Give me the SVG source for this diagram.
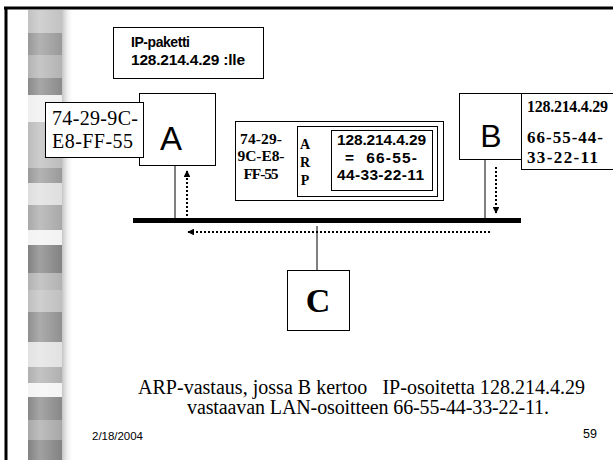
<svg xmlns="http://www.w3.org/2000/svg" width="613" height="460" viewBox="0 0 613 460">
  <style>
    .box { fill: #fff; stroke: #000; stroke-width: 1; }
    .thin { fill: none; stroke: #000; stroke-width: 1; }
    .dot { fill: none; stroke: #000; stroke-width: 2; stroke-dasharray: 2 2; }
    .sans { font-family: "Liberation Sans", Arial, sans-serif; }
    .serif { font-family: "Liberation Serif", "Times New Roman", serif; }
    .b { font-weight: bold; }
  </style>
  <defs>
    <marker id="tri" viewBox="0 0 10 10" refX="9" refY="5" markerWidth="3.4" markerHeight="3.4" orient="auto" markerUnits="strokeWidth">
      <path d="M0,0 L10,5 L0,10 z" fill="#000"/>
    </marker>
    <linearGradient id="shade" x1="0" y1="0" x2="1" y2="0">
      <stop offset="0" stop-color="#bdbdbd" stop-opacity="0.9"/>
      <stop offset="1" stop-color="#ffffff" stop-opacity="0"/>
    </linearGradient>
    <linearGradient id="hl" x1="0" y1="0" x2="1" y2="0">
      <stop offset="0" stop-color="#ffffff" stop-opacity="0"/>
      <stop offset="0.35" stop-color="#ffffff" stop-opacity="0.25"/>
      <stop offset="1" stop-color="#ffffff" stop-opacity="0"/>
    </linearGradient>
  </defs>

  <rect width="613" height="460" fill="#fff"/>

  <!-- decorative banded strip on the left -->
  <g id="strip">
    <rect x="62" y="10" width="12" height="450" fill="url(#shade)"/>
    <rect x="28" y="10" width="34" height="23" fill="#c2c2c2"/>
    <rect x="28" y="33" width="34" height="22" fill="#999"/>
    <rect x="28" y="55" width="34" height="23" fill="#b3b3b3"/>
    <rect x="28" y="78" width="34" height="17" fill="#8a8a8a"/>
    <rect x="28" y="95" width="34" height="27" fill="#efefef"/>
    <rect x="28" y="122" width="34" height="46" fill="#bcbcbc"/>
    <rect x="28" y="168" width="34" height="15" fill="#9a9a9a"/>
    <rect x="28" y="183" width="34" height="22" fill="#dedede"/>
    <rect x="28" y="205" width="34" height="25" fill="#a9a9a9"/>
    <rect x="28" y="230" width="34" height="15" fill="#f2f2f2"/>
    <rect x="28" y="245" width="34" height="28" fill="#828282"/>
    <rect x="28" y="273" width="34" height="17" fill="#b2b2b2"/>
    <rect x="28" y="290" width="34" height="22" fill="#bfbfbf"/>
    <rect x="28" y="312" width="34" height="30" fill="#909090"/>
    <rect x="28" y="342" width="34" height="25" fill="#e2e2e2"/>
    <rect x="28" y="367" width="34" height="16" fill="#b0b0b0"/>
    <rect x="28" y="383" width="34" height="14" fill="#f4f4f4"/>
    <rect x="28" y="397" width="34" height="23" fill="#888"/>
    <rect x="28" y="420" width="34" height="20" fill="#a8a8a8"/>
    <rect x="28" y="440" width="34" height="20" fill="#828282"/>
    <rect x="28" y="10" width="34" height="450" fill="url(#hl)"/>
  </g>

  <!-- slide frame: top and left edges -->
  <g id="frame">
    <line x1="4" y1="8" x2="613" y2="8" stroke="#000" stroke-width="3"/>
    <line x1="6" y1="8" x2="6" y2="460" stroke="#000" stroke-width="3"/>
  </g>

  <!-- connectors -->
  <g id="connectors">
    <line x1="133" y1="220.5" x2="521" y2="220.5" stroke="#000" stroke-width="5"/>
    <line class="thin" x1="175" y1="165" x2="175" y2="218"/>
    <line class="thin" x1="485" y1="159" x2="485" y2="218"/>
    <line class="thin" x1="317" y1="226" x2="317" y2="270"/>
    <line class="dot" x1="187" y1="216" x2="187" y2="171" marker-end="url(#tri)"/>
    <line class="dot" x1="496" y1="167" x2="496" y2="213" marker-end="url(#tri)"/>
    <line class="dot" x1="490" y1="232" x2="188" y2="232" marker-end="url(#tri)"/>
  </g>

  <!-- IP packet note -->
  <g id="ip-packet">
    <rect class="box" x="113.5" y="27.5" width="150" height="51"/>
    <text class="sans b" x="131" y="47" font-size="14" textLength="59">IP-paketti</text>
    <text class="sans b" x="131" y="65" font-size="15.5" textLength="114">128.214.4.29 :lle</text>
  </g>

  <!-- host A -->
  <g id="node-a">
    <rect class="box" x="139.5" y="93.5" width="76" height="72"/>
    <text class="sans" x="171" y="150" font-size="33" text-anchor="middle">A</text>
  </g>
  <g id="label-a">
    <rect class="box" x="45.5" y="102.5" width="98" height="55"/>
    <text class="serif" x="52" y="125" font-size="20" textLength="86">74-29-9C-</text>
    <text class="serif" x="52" y="148" font-size="20" textLength="81">E8-FF-55</text>
  </g>

  <!-- host B -->
  <g id="node-b">
    <rect class="box" x="459.5" y="93.5" width="62" height="66"/>
    <text class="sans" x="491" y="147" font-size="32" text-anchor="middle">B</text>
  </g>
  <g id="label-b">
    <rect class="box" x="521.5" y="93.5" width="95" height="76"/>
    <text class="serif b" x="527" y="112" font-size="16" textLength="81">128.214.4.29</text>
    <text class="serif b" x="527" y="143" font-size="17" textLength="76">66-55-44-</text>
    <text class="serif b" x="527" y="163" font-size="17" textLength="71">33-22-11</text>
  </g>

  <!-- ARP reply frame on the wire -->
  <g id="frame-packet">
    <rect class="box" x="235.5" y="121.5" width="208" height="79"/>
    <text class="serif b" x="261" y="144" font-size="15.5" text-anchor="middle" textLength="42">74-29-</text>
    <text class="serif b" x="261" y="161" font-size="15.5" text-anchor="middle" textLength="47">9C-E8-</text>
    <text class="serif b" x="261" y="179" font-size="15.5" text-anchor="middle" textLength="35">FF-55</text>
    <rect class="box" x="297.5" y="126.5" width="140" height="70"/>
    <text class="serif b" x="305" y="149" font-size="14" text-anchor="middle">A</text>
    <text class="serif b" x="305" y="167" font-size="14" text-anchor="middle">R</text>
    <text class="serif b" x="305" y="185" font-size="14" text-anchor="middle">P</text>
    <rect class="box" x="331.5" y="130.5" width="101" height="60"/>
    <text class="sans b" x="381.5" y="145" font-size="15.5" text-anchor="middle" textLength="89">128.214.4.29</text>
    <text class="sans b" x="381" y="163" font-size="15.5" text-anchor="middle" textLength="72" xml:space="preserve">=  66-55-</text>
    <text class="sans b" x="380.5" y="180" font-size="15.5" text-anchor="middle" textLength="87">44-33-22-11</text>
  </g>

  <!-- host C -->
  <g id="node-c">
    <rect class="box" x="287.5" y="270.5" width="62" height="60"/>
    <text class="serif b" x="318" y="312" font-size="34" text-anchor="middle">C</text>
  </g>

  <!-- caption -->
  <g id="caption">
    <text class="serif" x="138" y="394" font-size="20" textLength="447" xml:space="preserve">ARP-vastaus, jossa B kertoo   IP-osoitetta 128.214.4.29</text>
    <text class="serif" x="187" y="414" font-size="20" textLength="362">vastaavan LAN-osoitteen 66-55-44-33-22-11.</text>
    <text class="sans" x="92" y="440" font-size="11.5" textLength="51">2/18/2004</text>
    <text class="sans" x="583" y="438" font-size="12.5" textLength="14">59</text>
  </g>
</svg>
